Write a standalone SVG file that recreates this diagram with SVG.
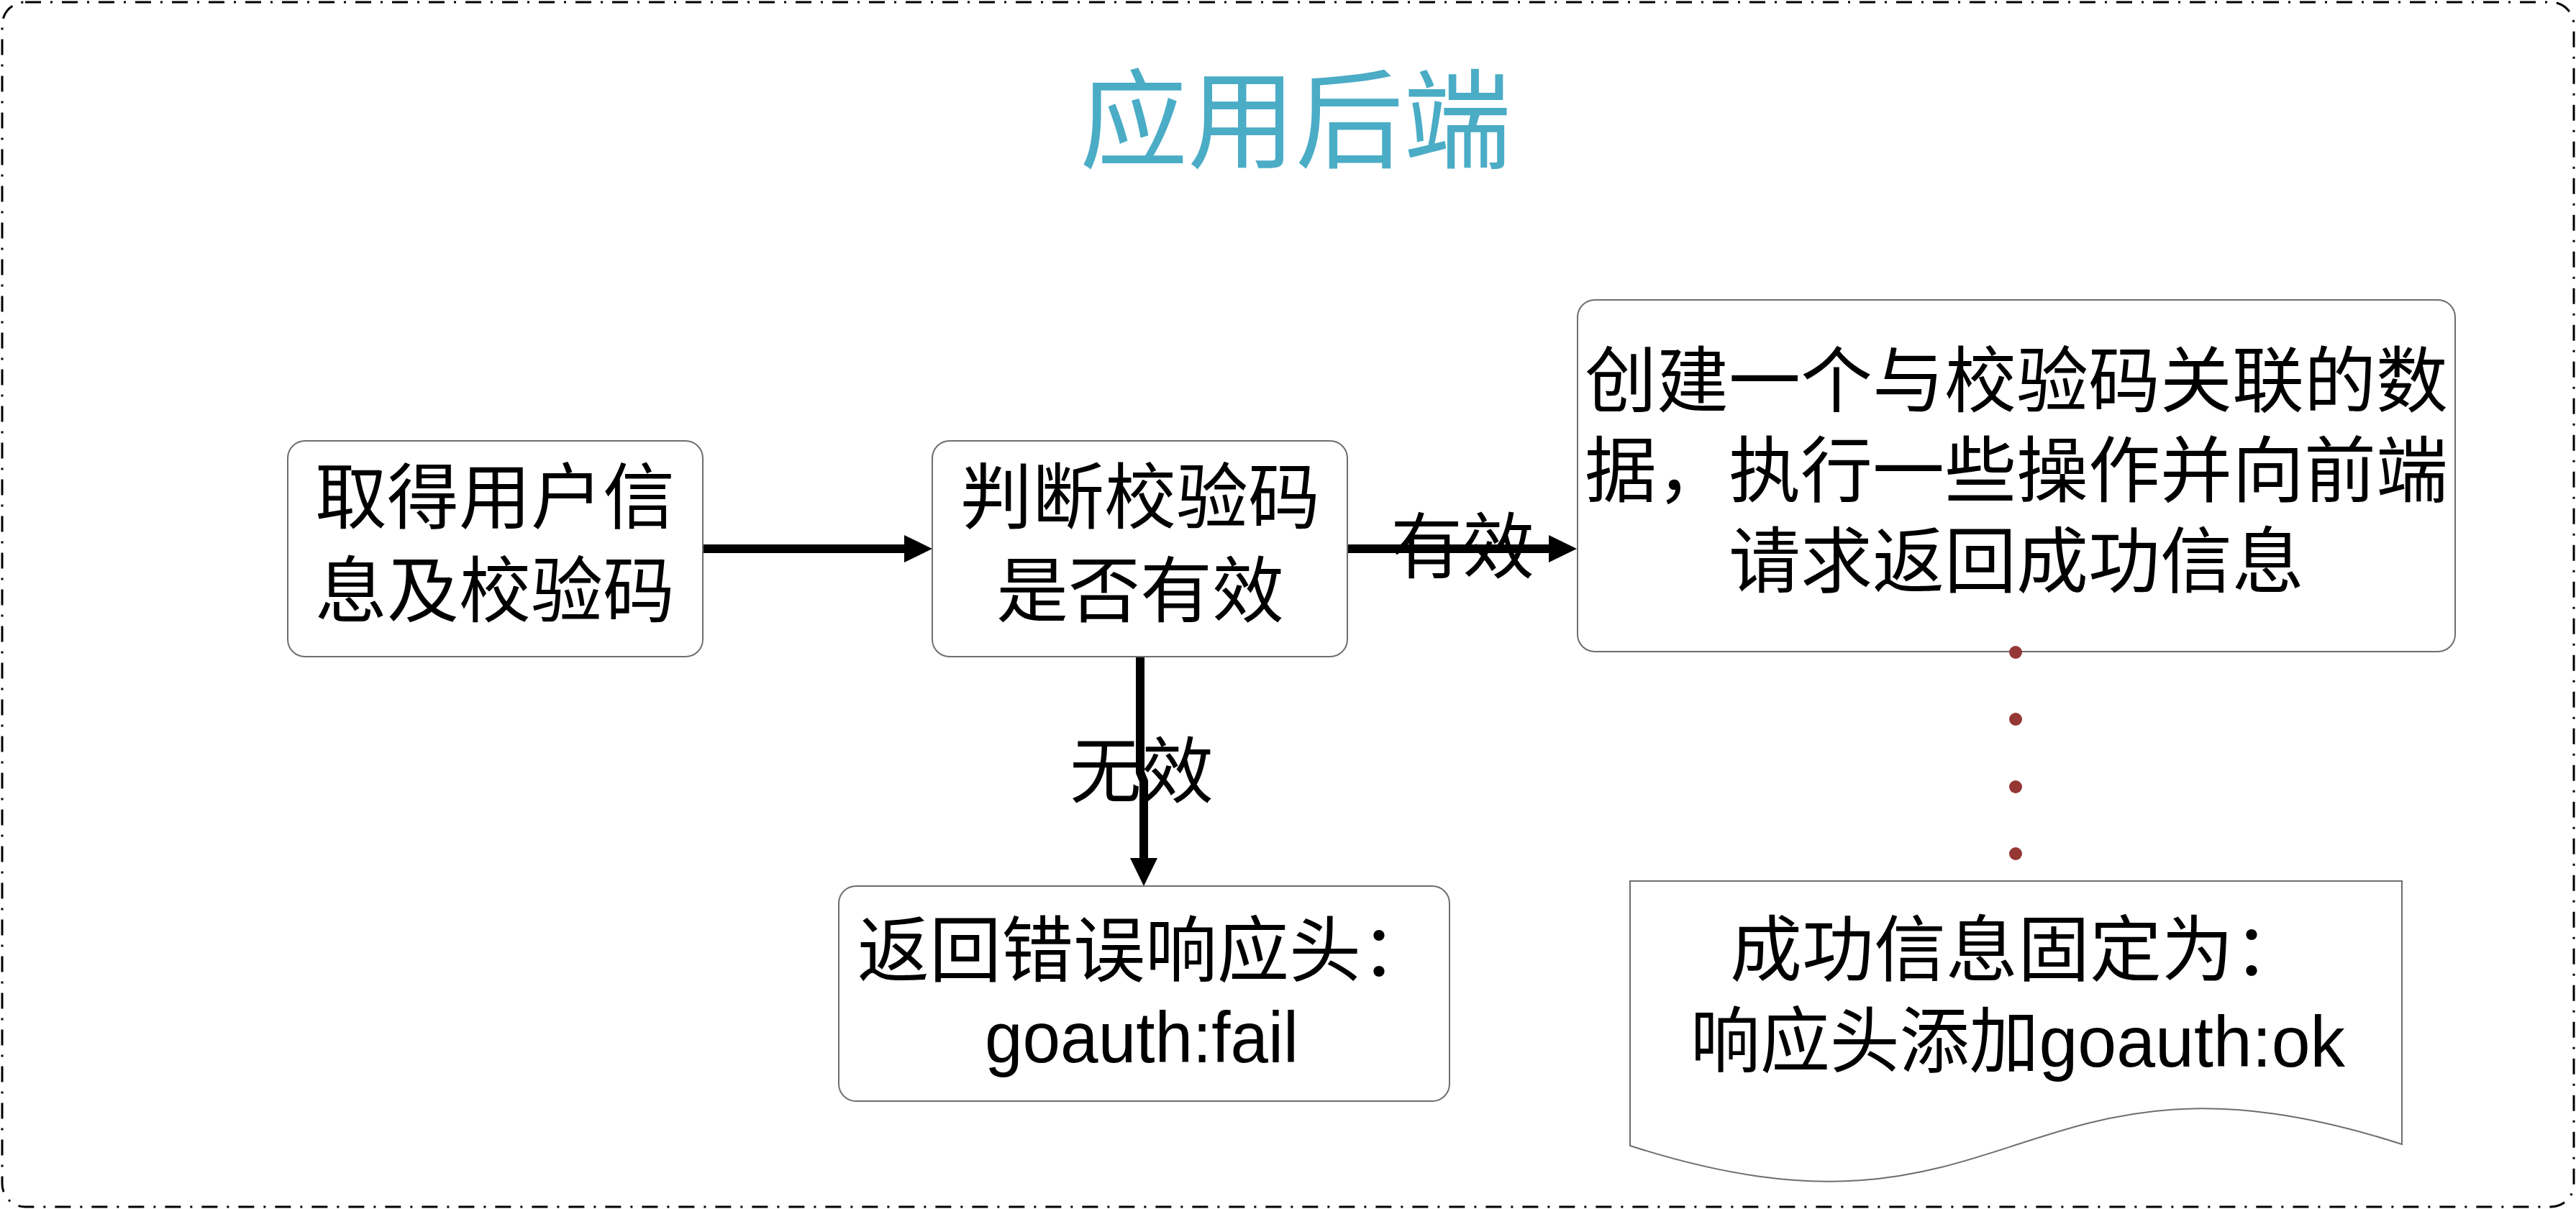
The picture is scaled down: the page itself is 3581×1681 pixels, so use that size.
<svg xmlns="http://www.w3.org/2000/svg" width="3581" height="1681" viewBox="0 0 3581 1681">
  <style>
    .frame { fill: #ffffff; stroke: #000000; stroke-width: 3; stroke-dasharray: 22 13 3 13; }
    .box { fill: #ffffff; stroke: #6e6e6e; stroke-width: 2; }
    .cjk { font-family: "Noto Sans CJK SC", sans-serif; font-size: 100px; fill: #000000; text-anchor: middle; }
    .mix { font-family: "Liberation Sans", "Noto Sans CJK SC", sans-serif; font-size: 100px; fill: #000000; text-anchor: middle; }
    .title { font-family: "Noto Sans CJK SC", sans-serif; font-size: 150px; fill: #4BACC6; text-anchor: middle; }
    .conn { fill: none; stroke: #000000; stroke-width: 12; stroke-linecap: round; stroke-linejoin: round; }
    .dot { fill: #953735; }
  </style>
  <defs>
    <marker id="arrow" markerUnits="userSpaceOnUse" markerWidth="40" markerHeight="40" refX="0" refY="19" orient="auto" viewBox="0 0 40 38">
      <path d="M0,0 L39,19 L0,38 Z" fill="#000000"/>
    </marker>
  </defs>

  <rect class="frame" x="3" y="3" width="3575" height="1675" rx="32" ry="32"/>

  <g id="title">
    <text class="title" x="1801" y="222">应用后端</text>
  </g>

  <g id="connectors">
    <path class="conn" d="M977,763 H1257" marker-end="url(#arrow)"/>
    <path class="conn" d="M1869,763 H2153" marker-end="url(#arrow)"/>
    <path class="conn" d="M1585,911 V1074 L1590,1086 V1193" marker-end="url(#arrow)"/>
    <text class="cjk" x="2033" y="796">有效</text>
    <text class="cjk" x="1587" y="1108">无效</text>
  </g>

  <g id="node-get-info">
    <rect class="box" x="400" y="613" width="577" height="300" rx="24" ry="24"/>
    <text class="cjk" x="688" y="727">取得用户信</text>
    <text class="cjk" x="688" y="857">息及校验码</text>
  </g>

  <g id="node-check">
    <rect class="box" x="1296" y="613" width="577" height="300" rx="24" ry="24"/>
    <text class="cjk" x="1585" y="727">判断校验码</text>
    <text class="cjk" x="1585" y="857">是否有效</text>
  </g>

  <g id="node-success">
    <rect class="box" x="2193" y="417" width="1220" height="489" rx="24" ry="24"/>
    <text class="cjk" x="2803" y="565">创建一个与校验码关联的数</text>
    <text class="cjk" x="2803" y="690">据，执行一些操作并向前端</text>
    <text class="cjk" x="2803" y="816">请求返回成功信息</text>
  </g>

  <g id="dots">
    <circle class="dot" cx="2802" cy="907" r="9"/>
    <circle class="dot" cx="2802" cy="1000" r="9"/>
    <circle class="dot" cx="2802" cy="1094" r="9"/>
    <circle class="dot" cx="2802" cy="1187" r="9"/>
  </g>

  <g id="node-fail">
    <rect class="box" x="1166" y="1232" width="849" height="299" rx="24" ry="24"/>
    <text class="cjk" x="1592" y="1357">返回错误响应头：</text>
    <text class="mix" x="1587" y="1477" textLength="436" lengthAdjust="spacingAndGlyphs">goauth:fail</text>
  </g>

  <g id="node-ok-doc">
    <path class="box" d="M2266,1225 L3339,1225 L3339,1591 C2802,1418 2802,1766 2266,1593 Z"/>
    <text class="cjk" x="2805" y="1356">成功信息固定为：</text>
    <text class="mix" x="2805" y="1483" textLength="910" lengthAdjust="spacingAndGlyphs">响应头添加goauth:ok</text>
  </g>
</svg>
